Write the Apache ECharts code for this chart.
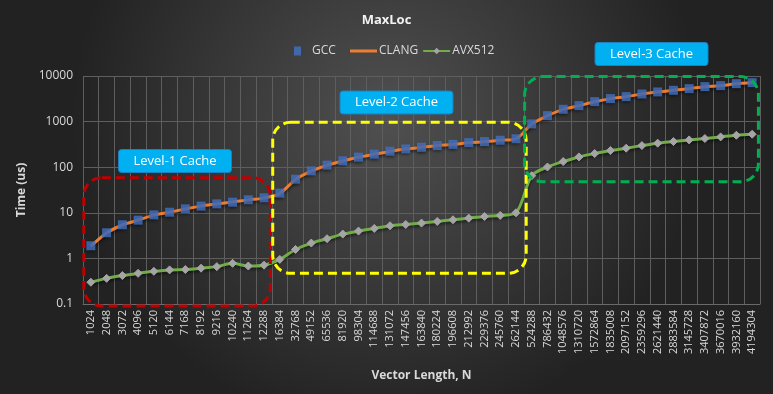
<!DOCTYPE html>
<html><head><meta charset="utf-8">
<script src="https://cdn.jsdelivr.net/npm/echarts@6/dist/echarts.min.js"></script>
<style>html,body{margin:0;padding:0;background:#333}#c{width:773px;height:394px}</style>
</head><body><div id="c"></div>
<script>
const categories = ['1024','2048','3072','4096','5120','6144','7168','8192','9216','10240','11264','12288',
'16384','32768','49152','65536','81920','98304','114688','131072','147456','163840','180224','196608','212992','229376','245760','262144',
'524288','786432','1048576','1310720','1572864','1835008','2097152','2359296','2621440','2883584','3145728','3407872','3670016','3932160','4194304'];
const gcc = [1.89,3.65,5.46,6.9,9.0,10.3,12.2,14.0,15.7,17.1,19.3,21.3,
27,54.6,83,111,138,166,193,224,252,274,298,317,346,364,390,420,
890,1352,1862,2238,2742,3190,3527,4034,4467,4857,5280,5840,6140,6790,7150];
const clang = [1.85,3.6,5.4,6.9,8.9,10.3,12.1,14.0,15.6,17.2,19.2,21.0,
26.5,54,82,110,137,165,192,222,250,273,296,316,344,362,388,418,
885,1340,1850,2230,2730,3180,3520,4020,4450,4850,5270,5820,6130,6780,7140];
const avx512 = [0.30,0.365,0.42,0.47,0.52,0.56,0.57,0.61,0.66,0.78,0.68,0.71,
0.95,1.57,2.17,2.7,3.41,3.97,4.54,5.19,5.55,5.94,6.46,7.03,7.64,8.3,8.75,10.0,
65,101,133,168,199,232,261,298,336,365,397,425,462,502,528];
const yTicks = [0.1,1,10,100,1000,10000];
// cache regions: [label, firstIndex, lastIndex, lowValue, highValue, colour]
const regions = [
  ['Level-1 Cache', 0, 11, 0.09, 59, '#C00000'],
  ['Level-2 Cache', 12, 27, 0.47, 966, '#FFFF00'],
  ['Level-3 Cache', 28, 42, 48, 9700, '#00B050']
];

const font = '"Open Sans", "Noto Sans", sans-serif';
const chart = echarts.init(document.getElementById('c'));
chart.setOption({
  backgroundColor: {type:'radial', x:0.5, y:0.3, r:0.8,
    colorStops:[{offset:0,color:'#505050'},{offset:1,color:'#222222'}]},
  textStyle:{fontFamily:font},
  animation:false,
  title:{text:'MaxLoc', left:'center', top:9,
    textStyle:{color:'#f2f2f2', fontSize:13, fontWeight:'bold', fontFamily:font}},
  legend:[
    {top:40, left:289, itemWidth:7, itemHeight:9,
     textStyle:{color:'#d9d9d9', fontSize:12, fontFamily:font, padding:[0,0,0,6]},
     data:[{name:'GCC', icon:'rect', itemStyle:{color:'#4472C4'}}]},
    {top:40, left:345, itemGap:4, itemWidth:27, itemHeight:8,
     textStyle:{color:'#d9d9d9', fontSize:12, fontFamily:font, padding:[0,0,0,-3]},
     data:[{name:'CLANG', icon:'path://M0,3 L27,3 L27,6 L0,6 Z', itemStyle:{color:'#ED7D31'}},'AVX512']}
  ],
  grid:{left:83, right:13, top:76, bottom:90},
  xAxis:{type:'category', data:categories, boundaryGap:true,
    name:'Vector Length, N', nameLocation:'middle', nameGap:66,
    nameTextStyle:{color:'#d9d9d9', fontSize:12, fontWeight:'bold', fontFamily:font},
    axisLine:{lineStyle:{color:'#6a6a6a'}}, axisTick:{show:false},
    axisLabel:{rotate:90, interval:0, color:'#d9d9d9', fontSize:11, margin:6, fontFamily:font},
    splitLine:{show:true, interval:0, lineStyle:{color:'#5e5e5e', width:1}}},
  yAxis:{type:'log', logBase:10, min:0.1, max:10000,
    name:'Time (us)', nameLocation:'middle', nameGap:50,
    nameTextStyle:{color:'#d9d9d9', fontSize:12, fontWeight:'bold', fontFamily:font},
    axisLine:{show:false}, axisTick:{show:false},
    axisLabel:{color:'#d9d9d9', fontSize:12, margin:10, fontFamily:font,
      formatter:v=>{const t=yTicks.find(x=>Math.abs(x-v)/x<1e-6);return t===undefined?'':String(t);}},
    splitLine:{lineStyle:{color:'#5e5e5e', width:1}}},
  series:[
    {name:'AVX512', type:'line', data:avx512, smooth:0.3, z:2,
      symbol:'diamond', symbolSize:8, showSymbol:true,
      lineStyle:{color:'#70AD47', width:3, shadowColor:'rgba(0,0,0,0.5)', shadowBlur:3, shadowOffsetY:2},
      itemStyle:{color:'#A5A5A5', borderColor:'#A5A5A5'}},
    {name:'CLANG', type:'line', data:clang, smooth:0.3, z:3, symbol:'none',
      lineStyle:{color:'#ED7D31', width:3, shadowColor:'rgba(0,0,0,0.5)', shadowBlur:3, shadowOffsetY:2},
      itemStyle:{color:'#ED7D31'}},
    {name:'GCC', type:'scatter', data:gcc, z:4, symbol:'rect', symbolSize:9,
      itemStyle:{color:'#4472C4', shadowColor:'rgba(0,0,0,0.5)', shadowBlur:3, shadowOffsetY:2}}
  ]
});

const xPix = i => chart.convertToPixel({xAxisIndex:0}, i);
const yPix = v => chart.convertToPixel({yAxisIndex:0}, v);
const step = xPix(1) - xPix(0);
const graphics = [];
const labelPos = [[175,161],[396.5,102.5],[651.5,54]];
regions.forEach((r, k) => {
  const x0 = xPix(r[1]) - step*0.45, x1 = xPix(r[2]) + step*(k===1?0.65:0.4);
  const y0 = yPix(r[4]), y1 = yPix(r[3]);
  graphics.push({type:'rect', z:10, shape:{x:x0, y:y0, width:x1-x0, height:y1-y0, r:18},
    style:{fill:'none', stroke:r[5], lineWidth:3, lineDash:[9,5]}});
  const [cx, cy] = labelPos[k];
  graphics.push({type:'rect', z:11, shape:{x:cx-56.5, y:cy-11.5, width:113, height:23, r:3},
    style:{fill:'#00B0F0', stroke:'#1f7fbf', lineWidth:1}});
  graphics.push({type:'text', z:12, x:cx, y:cy,
    style:{text:r[0], fill:'#ffffff', fontSize:13, fontFamily:font, align:'center', verticalAlign:'middle'}});
});
chart.setOption({graphic:graphics});
</script></body></html>
